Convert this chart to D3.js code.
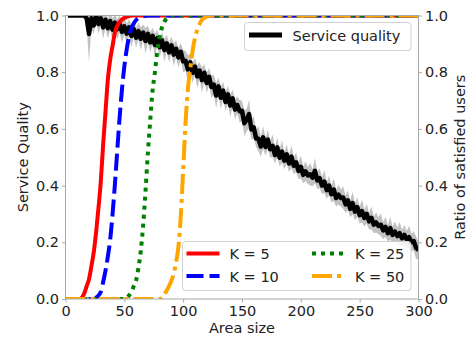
<!DOCTYPE html>
<html>
<head>
<meta charset="utf-8">
<script src="https://cdn.jsdelivr.net/npm/d3@7"></script>
<style>
  body { margin: 0; background: #fff; }
  text { font-family: "DejaVu Sans", sans-serif; fill: #222; }
</style>
</head>
<body>
<svg width="466" height="341"></svg>
<script>
// service quality, sampled every 2 units of area size
const qualityX = d3.range(2, 301, 2)
const qualityMean = [
  1, 1, 1, 1, 1, 1, 1, 1,
  0.99, 0.935, 0.99, 0.965, 1.0, 0.97, 0.99, 0.958, 0.985, 0.955,
  0.98, 0.95, 0.975, 0.952, 0.97, 0.942, 0.962, 0.936, 0.958, 0.928,
  0.952, 0.922, 0.945, 0.918, 0.94, 0.91, 0.935, 0.905, 0.928, 0.896,
  0.92, 0.888, 0.912, 0.878, 0.902, 0.87, 0.895, 0.862, 0.882, 0.852,
  0.872, 0.838, 0.84, 0.81, 0.835, 0.798, 0.82, 0.785, 0.806, 0.772,
  0.798, 0.762, 0.784, 0.748, 0.756, 0.718, 0.75, 0.71, 0.735, 0.695,
  0.722, 0.682, 0.708, 0.668, 0.684, 0.662, 0.664, 0.62, 0.632, 0.652,
  0.598, 0.605, 0.566, 0.565, 0.538, 0.57, 0.536, 0.562, 0.528, 0.54,
  0.508, 0.535, 0.498, 0.52, 0.488, 0.51, 0.478, 0.502, 0.47, 0.482,
  0.452, 0.466, 0.438, 0.45, 0.436, 0.44, 0.428, 0.452, 0.418, 0.426,
  0.4, 0.414, 0.384, 0.4, 0.37, 0.386, 0.356, 0.368, 0.356, 0.358,
  0.334, 0.348, 0.318, 0.338, 0.308, 0.324, 0.296, 0.31, 0.286, 0.3,
  0.274, 0.286, 0.262, 0.27, 0.258, 0.262, 0.242, 0.254, 0.232, 0.25,
  0.226, 0.238, 0.222, 0.232, 0.214, 0.226, 0.21, 0.218, 0.2, 0.204,
  0.18, 0.172
]
const qualitySpread = [
  0, 0, 0, 0, 0, 0, 0, 0,
  0.03, 0.1, 0.035, 0.03, 0.02, 0.035, 0.025, 0.04, 0.03, 0.035,
  0.03, 0.04, 0.03, 0.035, 0.03, 0.04, 0.03, 0.035, 0.028, 0.04,
  0.03, 0.035, 0.03, 0.04, 0.028, 0.045, 0.03, 0.035, 0.03, 0.04,
  0.03, 0.035, 0.028, 0.04, 0.03, 0.035, 0.03, 0.04, 0.03, 0.035,
  0.03, 0.04, 0.035, 0.05, 0.03, 0.035, 0.03, 0.04, 0.03, 0.045,
  0.03, 0.035, 0.03, 0.04, 0.035, 0.045, 0.03, 0.04, 0.03, 0.035,
  0.03, 0.04, 0.03, 0.035, 0.03, 0.04, 0.035, 0.045, 0.04, 0.05,
  0.035, 0.04, 0.03, 0.045, 0.035, 0.04, 0.03, 0.035, 0.03, 0.04,
  0.03, 0.035, 0.03, 0.04, 0.03, 0.035, 0.03, 0.04, 0.03, 0.035,
  0.03, 0.04, 0.03, 0.035, 0.03, 0.04, 0.03, 0.045, 0.03, 0.035,
  0.03, 0.04, 0.03, 0.035, 0.03, 0.04, 0.03, 0.035, 0.03, 0.04,
  0.03, 0.035, 0.03, 0.04, 0.03, 0.035, 0.03, 0.04, 0.03, 0.035,
  0.03, 0.04, 0.03, 0.035, 0.03, 0.04, 0.03, 0.035, 0.03, 0.04,
  0.03, 0.035, 0.03, 0.04, 0.03, 0.035, 0.03, 0.04, 0.03, 0.035,
  0.04, 0.03
]

// ratio of satisfied users for each K, [area size, ratio]
const k5 = [[0, 0], [12, 0], [14, 0.005], [16, 0.02], [18, 0.045], [20, 0.07],
  [22, 0.115], [24, 0.165], [26, 0.235], [28, 0.32], [30, 0.415], [32, 0.545],
  [34, 0.66], [36, 0.775], [38, 0.845], [40, 0.893], [42, 0.94], [44, 0.963],
  [46, 0.977], [48, 0.986], [52, 0.995], [58, 1], [300, 1]]
const k10 = [[0, 0], [24, 0], [27, 0.008], [30, 0.025], [32, 0.06], [34, 0.1],
  [36, 0.15], [38, 0.21], [40, 0.3], [42, 0.405], [44, 0.525], [46, 0.64],
  [48, 0.74], [50, 0.82], [52, 0.88], [54, 0.925], [56, 0.955], [58, 0.972],
  [61, 0.988], [65, 0.996], [70, 1], [300, 1]]
const k25 = [[0, 0], [50, 0], [53, 0.008], [56, 0.025], [58, 0.045], [60, 0.065],
  [62, 0.11], [64, 0.17], [66, 0.26], [68, 0.38], [70, 0.515], [72, 0.63],
  [74, 0.735], [76, 0.8], [78, 0.875], [80, 0.925], [82, 0.958], [84, 0.978],
  [86, 0.99], [88, 0.996], [91, 1], [300, 1]]
const k50 = [[0, 0], [80, 0], [83, 0.01], [86, 0.03], [89, 0.055], [92, 0.09],
  [94, 0.13], [96, 0.185], [98, 0.295], [100, 0.455], [102, 0.62], [104, 0.74],
  [106, 0.81], [108, 0.875], [110, 0.92], [112, 0.95], [114, 0.97], [116, 0.985],
  [119, 0.994], [124, 1], [300, 1]]

const xTicks = [0, 50, 100, 150, 200, 250, 300]
const yTicks = [0, 0.2, 0.4, 0.6, 0.8, 1.0]

const curves = [
  { label: 'K = 5', data: k5, color: 'red', dash: null },
  { label: 'K = 10', data: k10, color: 'blue', dash: '17,6' },
  { label: 'K = 25', data: k25, color: 'green', dash: '4,5' },
  { label: 'K = 50', data: k50, color: 'orange', dash: '20,5,4,5' },
]

const plotLeft = 65.5, plotRight = 418.5, plotTop = 15.5, plotBottom = 299

const x = d3.scaleLinear().domain([0, 300]).range([plotLeft, plotRight])
const y = d3.scaleLinear().domain([0, 1]).range([plotBottom, plotTop])

const svg = d3.select('svg')

svg.append('clipPath').attr('id', 'plot')
  .append('rect')
  .attr('x', plotLeft).attr('y', plotTop)
  .attr('width', plotRight - plotLeft).attr('height', plotBottom - plotTop)

const plot = svg.append('g').attr('clip-path', 'url(#plot)')

const quality = qualityMean.map((v, i) => ({ x: qualityX[i], v: v, s: qualitySpread[i] }))

plot.append('path')
  .datum(quality)
  .attr('fill', '#c2c2c2')
  .attr('d', d3.area()
    .x(d => x(d.x))
    .y0(d => y(d.v - d.s))
    .y1(d => y(d.v + d.s)))

plot.append('path')
  .datum(quality)
  .attr('fill', 'none')
  .attr('stroke', 'black')
  .attr('stroke-width', 4.5)
  .attr('stroke-linejoin', 'round')
  .attr('d', d3.line().x(d => x(d.x)).y(d => y(d.v)))

const kLine = d3.line()
  .x(d => x(d[0]))
  .y(d => y(d[1]))
  .curve(d3.curveMonotoneX)

curves.forEach(c => {
  plot.append('path')
    .datum(c.data)
    .attr('fill', 'none')
    .attr('stroke', c.color)
    .attr('stroke-width', 4)
    .attr('stroke-dasharray', c.dash)
    .attr('d', kLine)
})

// axes
const axisColor = '#a8a8a8'
const styleAxis = (g) => {
  g.select('.domain').remove()
  g.selectAll('.tick line').attr('stroke', axisColor)
  g.selectAll('.tick text')
    .attr('font-size', 14.5)
    .attr('font-family', '"DejaVu Sans", sans-serif')
    .attr('fill', '#222')
}

svg.append('g')
  .attr('transform', `translate(0,${plotBottom})`)
  .call(d3.axisBottom(x).tickValues(xTicks).tickSize(3.5).tickPadding(3))
  .call(styleAxis)

svg.append('g')
  .attr('transform', `translate(${plotLeft},0)`)
  .call(d3.axisLeft(y).tickValues(yTicks).tickFormat(d3.format('.1f')).tickSize(3.5).tickPadding(3))
  .call(styleAxis)

svg.append('g')
  .attr('transform', `translate(${plotRight},0)`)
  .call(d3.axisRight(y).tickValues(yTicks).tickFormat(d3.format('.1f')).tickSize(3.5).tickPadding(3))
  .call(styleAxis)

svg.append('rect')
  .attr('x', plotLeft).attr('y', plotTop)
  .attr('width', plotRight - plotLeft).attr('height', plotBottom - plotTop)
  .attr('fill', 'none')
  .attr('stroke', axisColor)
  .attr('stroke-width', 1)

// axis labels
svg.append('text')
  .attr('x', (plotLeft + plotRight) / 2).attr('y', 333)
  .attr('text-anchor', 'middle')
  .attr('font-size', 14.5)
  .text('Area size')

svg.append('text')
  .attr('transform', `translate(27.5,${(plotTop + plotBottom) / 2}) rotate(-90)`)
  .attr('text-anchor', 'middle')
  .attr('font-size', 14.5)
  .text('Service Quality')

svg.append('text')
  .attr('transform', `translate(464.5,${(plotTop + plotBottom) / 2}) rotate(-90)`)
  .attr('text-anchor', 'middle')
  .attr('font-size', 14.5)
  .text('Ratio of satisfied users')

// legend: service quality
const leg1 = svg.append('g')
leg1.append('rect')
  .attr('x', 244.5).attr('y', 22.5).attr('width', 166.5).attr('height', 28)
  .attr('rx', 3)
  .attr('fill', 'white').attr('fill-opacity', 0.8)
  .attr('stroke', '#d0d0d0')
leg1.append('line')
  .attr('x1', 249).attr('x2', 282).attr('y1', 35).attr('y2', 35)
  .attr('stroke', 'black').attr('stroke-width', 5)
leg1.append('text')
  .attr('x', 292.5).attr('y', 40.5)
  .attr('font-size', 14.5)
  .text('Service quality')

// legend: K curves, two columns
const leg2 = svg.append('g')
leg2.append('rect')
  .attr('x', 182.5).attr('y', 241.5).attr('width', 228.5).attr('height', 49)
  .attr('rx', 3)
  .attr('fill', 'white').attr('fill-opacity', 0.8)
  .attr('stroke', '#d0d0d0')

const colX = [186.5, 312]
const rowY = [253.5, 276]
curves.forEach((c, i) => {
  const cx = colX[Math.floor(i / 2)]
  const cy = rowY[i % 2]
  leg2.append('line')
    .attr('x1', cx).attr('x2', cx + 33).attr('y1', cy).attr('y2', cy)
    .attr('stroke', c.color).attr('stroke-width', 4)
    .attr('stroke-dasharray', c.dash)
  leg2.append('text')
    .attr('x', cx + 43).attr('y', cy + 5.5)
    .attr('font-size', 14.5)
    .text(c.label)
})
</script>
</body>
</html>
